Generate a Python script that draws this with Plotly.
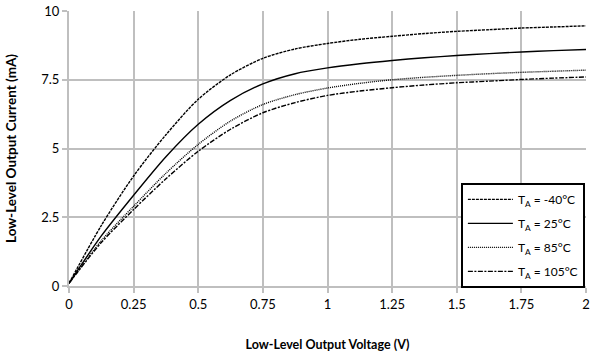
import plotly.graph_objects as go

voltage = [0, 0.125, 0.25, 0.375, 0.5, 0.625, 0.75, 0.875, 1.0, 1.125, 1.25, 1.375, 1.5, 1.625, 1.75, 1.875, 2.0]
i_m40 = [0.1, 2.2, 4.0, 5.5, 6.79, 7.68, 8.28, 8.62, 8.82, 8.97, 9.08, 9.18, 9.26, 9.32, 9.38, 9.42, 9.46]
i_25 = [0.1, 1.82, 3.3, 4.7, 5.88, 6.75, 7.35, 7.72, 7.93, 8.08, 8.2, 8.3, 8.38, 8.45, 8.51, 8.56, 8.6]
i_85 = [0.1, 1.65, 2.9, 4.1, 5.15, 6.0, 6.6, 6.96, 7.2, 7.37, 7.5, 7.59, 7.66, 7.72, 7.77, 7.81, 7.85]
i_105 = [0.1, 1.58, 2.78, 3.9, 4.9, 5.7, 6.3, 6.67, 6.93, 7.09, 7.21, 7.31, 7.39, 7.45, 7.51, 7.56, 7.6]

names = ["T<sub>A</sub> = -40°C", "T<sub>A</sub> = 25°C", "T<sub>A</sub> = 85°C", "T<sub>A</sub> = 105°C"]
series = [i_m40, i_25, i_85, i_105]
dashes = ["3px,1px", "solid", "1px,1px", "5px,1.5px,2px,1.5px"]

x_ticks = [0, 0.25, 0.5, 0.75, 1, 1.25, 1.5, 1.75, 2]
x_labels = ["0", "0.25", "0.5", "0.75", "1", "1.25", "1.5", "1.75", "2"]
y_ticks = [0, 2.5, 5, 7.5, 10]
y_labels = ["0", "2.5", "5", "7.5", "10"]

FONT = "Lato, Carlito, Open Sans, sans-serif"
GRID = "#bfbfbf"

fig = go.Figure()
for i, (nm, ys, ds) in enumerate(zip(names, series, dashes)):
    fig.add_trace(go.Scatter(
        x=voltage, y=ys, mode="lines", name=nm,
        line=dict(color="black", width=1.4, dash=ds, shape="spline", smoothing=0.8),
        legendgroup=f"g{i}",
    ))

fig.update_layout(
    width=593, height=354,
    margin=dict(l=69, r=3, t=6, b=68),
    paper_bgcolor="white", plot_bgcolor="white",
    font=dict(family=FONT, size=13, color="black"),
    showlegend=True,
    legend=dict(
        x=0.758, y=0.375, xanchor="left", yanchor="top",
        bgcolor="white", bordercolor="black", borderwidth=2,
        font=dict(family=FONT, size=12, color="black"),
        tracegroupgap=5, itemwidth=45,
    ),
    xaxis=dict(
        range=[0, 2], tickvals=x_ticks, ticktext=x_labels,
        showgrid=True, gridcolor=GRID, gridwidth=2,
        showline=True, linecolor=GRID, linewidth=2,
        ticks="outside", ticklen=5, tickcolor=GRID, tickwidth=2,
        zeroline=False, ticklabeloverflow="allow",
        title=dict(text="<b>Low-Level Output Voltage (V)</b>", font=dict(size=12.5), standoff=30),
    ),
    yaxis=dict(
        range=[0, 10], tickvals=y_ticks, ticktext=y_labels,
        showgrid=True, gridcolor=GRID, gridwidth=2,
        showline=True, linecolor=GRID, linewidth=2,
        ticks="outside", ticklen=5, tickcolor=GRID, tickwidth=2,
        zeroline=False, ticklabeloverflow="allow",
        title=dict(text="<b>Low-Level Output Current (mA)</b>", font=dict(size=13.5), standoff=22),
    ),
)

fig.write_html("out.html")
